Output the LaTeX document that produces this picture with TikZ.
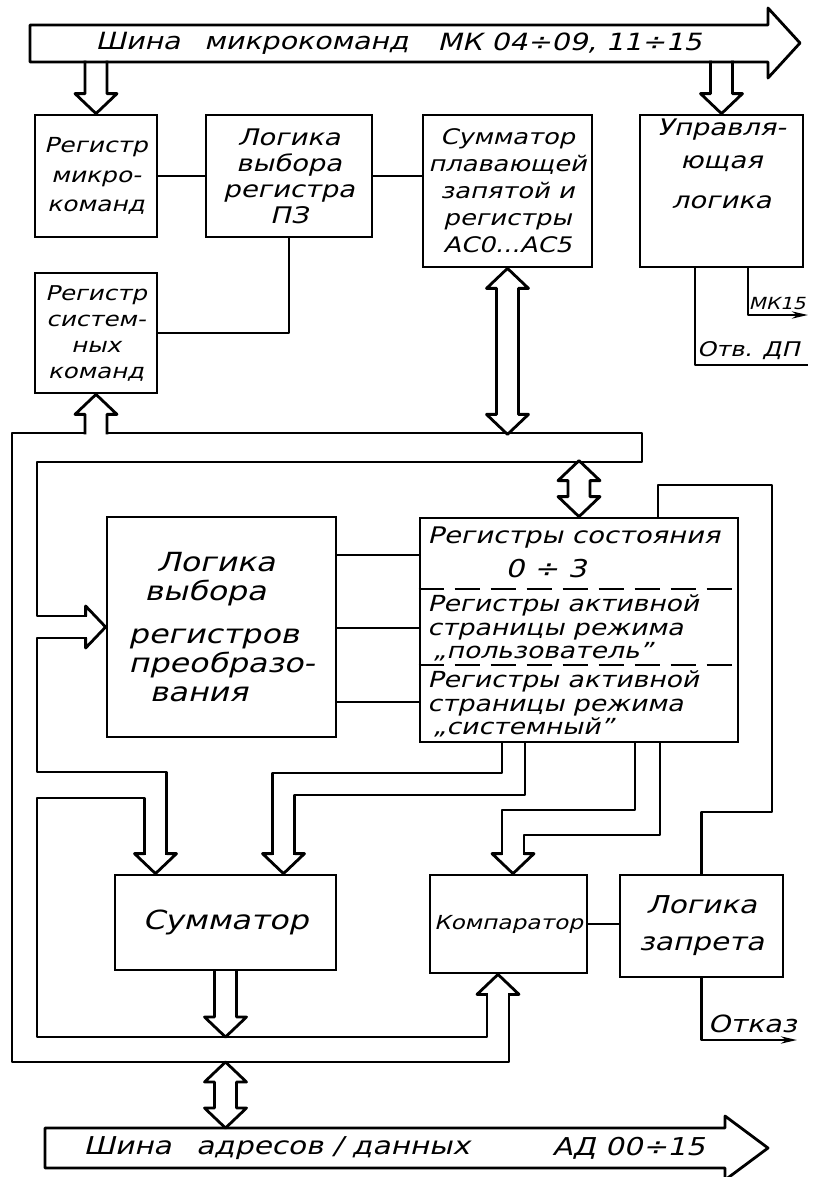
\documentclass[tikz,border=0pt]{standalone}
\usepackage{fontspec}
\newfontfamily\gost[FakeSlant=0.25, FakeStretch=1.2]{DejaVu Sans}
\usetikzlibrary{arrows.meta, calc}

\begin{document}
\begin{tikzpicture}[
  x=0.02cm, y=-0.02cm,
  font=\gost,
  wl/.style={line width=1.6pt, line join=round},
  blk/.style={draw, line width=1.6pt, align=center, inner sep=1pt},
  txt/.style={inner sep=0pt},
  outarr/.style={wl, -{Stealth[length=9pt, width=4pt]}},
  sep/.style={line width=1.4pt, dash pattern=on 0.5cm off 0.22cm},
  hd/.pic={\draw[wl] (-11,{-20-#1}) -- (-11,-20) -- (-21,-20) -- (0,0) -- (21,-20) -- (11,-20) -- (11,{-20-#1});},
  hu/.pic={\draw[wl] (-11,{20+#1}) -- (-11,20) -- (-21,20) -- (0,0) -- (21,20) -- (11,20) -- (11,{20+#1});},
  hr/.pic={\draw[wl] ({-20-#1},-11) -- (-20,-11) -- (-20,-21) -- (0,0) -- (-20,21) -- (-20,11) -- ({-20-#1},11);},
  hb/.pic={\draw[wl] (-11,20) -- (-21,20) -- (0,0) -- (21,20) -- (11,20) -- (11,{#1-20}) -- (21,{#1-20}) -- (0,#1) -- (-21,{#1-20}) -- (-11,{#1-20}) -- cycle;},
]
\useasboundingbox (0,0) rectangle (819,1177);

% --- шина микрокоманд ---
\draw[wl] (30,25) -- (768,25) -- (768,8) -- (800,43) -- (768,78) -- (768,62) -- (30,62) -- cycle;
\node[txt, anchor=west, font=\gost\fontsize{13.5}{16}\selectfont] (mkt) at (95,43) {Шина\hspace{1em}микрокоманд};
\node[txt, anchor=west, font=\gost\fontsize{13.5}{16}\selectfont] (mkn) at (437,43) {МК 04÷09, 11÷15};

% --- верхний ряд ---
\node[blk, minimum width=2.44cm, minimum height=2.44cm, font=\gost\fontsize{11.8}{17}\selectfont] (rmk) at (96,176) {Регистр\\микро-\\команд};
\node[blk, minimum width=3.32cm, minimum height=2.44cm, font=\gost\fontsize{13}{14.8}\selectfont] (lpz) at (289,176) {Логика\\выбора\\регистра\\ПЗ};
\node[blk, minimum width=3.38cm, minimum height=3.04cm, font=\gost\fontsize{12.2}{15.4}\selectfont] (spz) at (507.5,191) {Сумматор\\плавающей\\запятой и\\регистры\\АС0...АС5};
\node[blk, minimum width=3.26cm, minimum height=3.04cm, font=\gost\fontsize{13}{19}\selectfont] (ul) at (721.5,191) {Управля-\\ющая\\[4pt]логика\\[12pt]};
\node[blk, minimum width=2.44cm, minimum height=2.4cm, font=\gost\fontsize{11.6}{14.8}\selectfont] (rsk) at (96,333) {Регистр\\систем-\\ных\\команд};

\path (rmk.north) pic {hd=33};
\path (ul.north) pic {hd=33};
\draw[wl] (rmk) -- (lpz);
\draw[wl] (lpz.east) -- (lpz.east -| spz.west);
\draw[wl] (lpz.south) |- (rsk.east);

% --- выходы управляющей логики ---
\coordinate (mkend) at (808,315);
\coordinate (dpend) at (808,365);
\draw[outarr] (ul.south -| 748,0) |- (mkend);
\draw[wl] (ul.south -| 695,0) |- (dpend);
\node[txt, anchor=south east, font=\gost\fontsize{9.5}{11}\selectfont] (mkl) at ($(mkend)+(-2,-5)$) {МК15};
\node[txt, anchor=south east, font=\gost\fontsize{11.5}{13}\selectfont] (dpl) at ($(dpend)+(-8,-5)$) {Отв. ДП};

% --- средний ряд ---
\node[blk, minimum width=4.58cm, minimum height=4.4cm, align=left, font=\gost\fontsize{15}{16.5}\selectfont] (lvp) at (221.5,627) {\hspace*{16pt}Логика\\\hspace*{9pt}выбора\\[8pt]регистров\\преобразо-\\\hspace*{12pt}вания};
\node[blk, minimum width=6.36cm, minimum height=4.48cm] (rs) at (579,630) {};
\draw[sep] (rs.west |- 0,589) -- (rs.east |- 0,589);
\draw[sep] (rs.west |- 0,665) -- (rs.east |- 0,665);
\node[txt, anchor=west, font=\gost\fontsize{13}{13.8}\selectfont] (rsa) at (427,538) {Регистры состояния};
\node[txt, font=\gost\fontsize{14}{15}\selectfont] (rsn) at (546,569) {0 ÷ 3};
\node[txt, anchor=west, align=left, font=\gost\fontsize{12.6}{13.4}\selectfont] (rsb) at (427,628) {Регистры активной\\страницы режима\\\hspace*{3pt}„пользователь”};
\node[txt, anchor=west, align=left, font=\gost\fontsize{12.6}{13.4}\selectfont] (rsc) at (427,704) {Регистры активной\\страницы режима\\\hspace*{3pt}„системный”};
\foreach \yy in {555,628,702}
  \draw[wl] (lvp.east |- 0,\yy) -- (rs.west |- 0,\yy);

% --- нижний ряд ---
\node[blk, minimum width=4.42cm, minimum height=1.9cm, font=\gost\fontsize{15}{17}\selectfont] (sum) at (225.5,922.5) {Сумматор};
\node[blk, minimum width=3.14cm, minimum height=1.96cm, font=\gost\fontsize{11}{13}\selectfont] (cmp) at (508.5,924) {Компаратор};
\node[blk, minimum width=3.26cm, minimum height=2.04cm, font=\gost\fontsize{14}{21}\selectfont] (lz) at (701.5,926) {Логика\\запрета};
\draw[wl] (cmp.east) -- (cmp.east -| lz.west);
\draw[wl] (rs.north -| 658,0) |- (772,485) -- (772,812) -| (lz.north);
\coordinate (otk) at (797,1040);
\draw[outarr] (lz.south) |- (otk);
\node[txt, anchor=south east, font=\gost\fontsize{13.5}{15}\selectfont] (otl) at ($(otk)+(0,-7)$) {Отказ};

% --- внутренняя шина ---
\coordinate (bo) at (12,433);
\coordinate (bo2) at (12,1062);
\coordinate (bi) at (37,462);
\coordinate (bi2) at (37,1037);
\coordinate (be) at (642,433);
\path (rsk.south) pic {hu=20};
\path (lvp.west) pic {hr=0};
\path (sum.north -| 155.5,0) pic {hd=0};
\path (sum.north -| 283.5,0) pic {hd=0};
\path (cmp.north -| 513,0) pic {hd=0};
\path (cmp.south -| 498,0) pic {hu=0};
\path (sum.south |- bi2) pic {hd=47};
\path (spz.south) pic {hb=166};
\path ($(rs.north)+(0,-56)$) pic {hb=56};
\path (sum.south |- bo2) pic {hb=66};
\draw[wl] (85,433) -- (bo) -- (bo2) -- (509,1062) -- (509,993);
\draw[wl] (107,433) -- (be) -- ++(0,29) -- (bi) |- (87,616);
\draw[wl] (87,638) -| (37,772) -| (166.5,855);
\draw[wl] (144.5,855) |- (37,798) -- (bi2) -| (487,993);
\draw[wl] (rs.south -| 502,0) -- (502,773) -| (272.5,855);
\draw[wl] (rs.south -| 525,0) -- (525,795) -| (294.5,855);
\draw[wl] (rs.south -| 635,0) -- (635,810) -| (502,855);
\draw[wl] (rs.south -| 660,0) -- (660,835) -| (524,855);

% --- шина адресов/данных ---
\draw[wl] (45,1128) -- (725,1128) -- (725,1116) -- (768,1148) -- (725,1180) -- (725,1168) -- (45,1168) -- cycle;
\node[txt, anchor=west, font=\gost\fontsize{14}{16}\selectfont] (adt) at (83,1148) {Шина\hspace{1em}адресов / данных};
\node[txt, anchor=west, font=\gost\fontsize{14}{16}\selectfont] (adn) at (552,1148) {АД 00÷15};

\end{tikzpicture}
\end{document}
